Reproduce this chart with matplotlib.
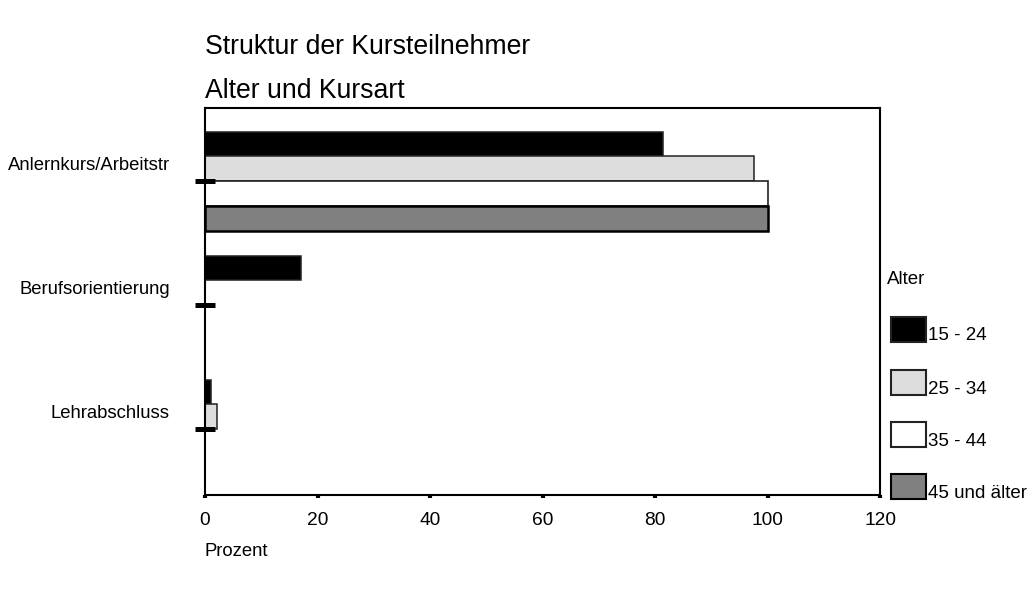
import numpy as np
import matplotlib.pyplot as plt
from matplotlib.patches import Rectangle

plt.rcParams['font.family'] = ['Liberation Sans', 'DejaVu Sans']

# Daten
kursarten = ["Anlernkurs/Arbeitstr", "Berufsorientierung", "Lehrabschluss"]
altersgruppen = ["15 - 24", "25 - 34", "35 - 44", "45 und älter"]
werte_15_24 = [81.5, 17.0, 1.1]
werte_25_34 = [97.6, 0.0, 2.1]
werte_35_44 = [100.0, 0.0, 0.0]
werte_45 = [100.0, 0.0, 0.0]
x_ticks = [0, 20, 40, 60, 80, 100, 120]

serien = [werte_15_24, werte_25_34, werte_35_44, werte_45]
farben = ["#000000", "#dddddd", "#ffffff", "#808080"]
kanten = ["#222222", "#222222", "#222222", "#000000"]
kantenbreite = [1.1, 1.1, 1.2, 1.8]

W, H = 1030, 591
fig = plt.figure(figsize=(W / 100, H / 100), dpi=100)
ax = fig.add_axes([205 / W, 1 - 495 / H, 675 / W, 387 / H])

y = np.arange(len(kursarten))
h = 0.2
offsets = [-0.3, -0.1, 0.1, 0.3]
for werte, off, fc, ec, lw in zip(serien, offsets, farben, kanten, kantenbreite):
    # Nullwerte ohne Rahmen zeichnen, damit keine Striche entstehen
    lws = [lw if v > 0 else 0 for v in werte]
    ax.barh(y + off, werte, height=h, color=fc, edgecolor=ec, linewidth=lws)

ax.set_xlim(0, 120)
ax.set_ylim(2.53, -0.59)
ax.set_xticks(x_ticks)
ax.set_xticklabels([str(t) for t in x_ticks], fontsize=13.8)
ax.set_yticks(y)
ax.set_yticklabels([])
for s in ax.spines.values():
    s.set_linewidth(1.5)
ax.tick_params(axis='y', direction='inout', length=14.5, width=3.6, color='black')
ax.tick_params(axis='x', direction='out', length=2.5, width=3, pad=10)

for i, name in enumerate(kursarten):
    ax.annotate(name, xy=(0, i), xycoords=('axes fraction', 'data'),
                xytext=(-35, 16), textcoords='offset pixels',
                ha='right', va='center', fontsize=13.3)

# Titel
fig.text(205 / W, 1 - 47 / H, "Struktur der Kursteilnehmer", fontsize=19.2, va='center')
fig.text(205 / W, 1 - 91 / H, "Alter und Kursart", fontsize=19.2, va='center')
fig.text(205 / W, 1 - 552 / H, "Prozent", fontsize=13.3, va='center')

# Legende
fig.text(887 / W, 1 - 280 / H, "Alter", fontsize=13.5, va='center')
tops = [317, 370, 422, 474]
for name, top, fc, ec in zip(altersgruppen, tops, farben, kanten):
    fig.add_artist(Rectangle((891 / W, 1 - (top + 25) / H), 35 / W, 25 / H,
                             transform=fig.transFigure, facecolor=fc,
                             edgecolor=ec, linewidth=1.5))
    fig.text(928 / W, 1 - (top + 19) / H, name, fontsize=13.5, va='center')

fig.savefig("out.png", dpi=100)
